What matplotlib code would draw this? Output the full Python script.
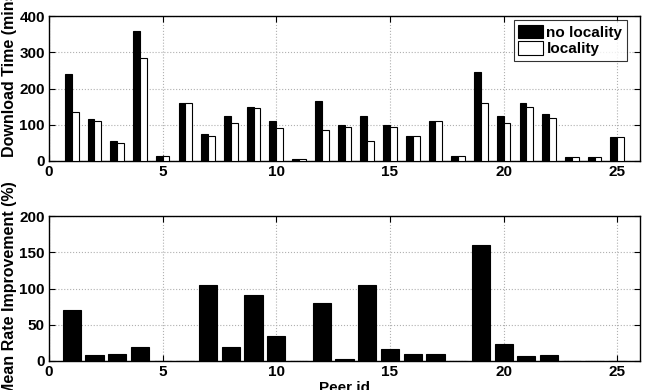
import matplotlib
matplotlib.use("Agg")
import matplotlib.pyplot as plt
import numpy as np

plt.rcParams['font.family'] = ['Liberation Sans', 'DejaVu Sans']
plt.rcParams['font.weight'] = 'bold'

peers = list(range(1, 26))
no_locality = [240, 115, 55, 360, 15, 160, 75, 125, 150, 110, 5, 165, 100, 125, 100,
               70, 110, 15, 245, 125, 160, 130, 10, 10, 65]
locality = [135, 110, 50, 285, 15, 160, 70, 105, 145, 90, 5, 85, 95, 55, 95,
            70, 110, 15, 160, 105, 150, 120, 10, 10, 65]
improvement = [70, 8, 10, 20, 0, 0, 105, 20, 91, 35, 0, 80, 3, 105, 17,
               10, 10, 0, 160, 24, 7, 8, 0, 0, 0]

fig = plt.figure(figsize=(6.46, 3.9), dpi=100)
ax1 = fig.add_axes([49/646, 1-161/390, 591/646, 145/390])
ax2 = fig.add_axes([49/646, 1-361/390, 591/646, 145/390])

x = np.array(peers)
w = 0.3
ax1.bar(x - w/2, no_locality, w, color='black', edgecolor='black', linewidth=0.8, label='no locality', zorder=3)
ax1.bar(x + w/2, locality, w, color='white', edgecolor='black', linewidth=0.8, label='locality', zorder=3)
ax2.bar(x, improvement, 0.8, color='black', edgecolor='black', linewidth=0.8, zorder=3)

for ax, ymax, yt in [(ax1, 400, [0, 100, 200, 300, 400]), (ax2, 200, [0, 50, 100, 150, 200])]:
    ax.set_xlim(0, 26)
    ax.set_ylim(0, ymax)
    ax.set_xticks([0, 5, 10, 15, 20, 25])
    ax.set_yticks(yt)
    ax.grid(True, linestyle=':', color='#b0b0b0', linewidth=0.8, zorder=0)
    ax.tick_params(direction='in', top=True, right=True, labelsize=11, width=0.8, length=4, pad=3)
    for lab in ax.get_xticklabels() + ax.get_yticklabels():
        lab.set_fontweight('bold')
    for s in ax.spines.values():
        s.set_linewidth(1.0)

ax1.set_ylabel('Download Time (mins)', fontsize=11.5, fontweight='bold', ha='left', va='center')
ax1.yaxis.set_label_coords(-0.066, 0.028)
ax2.set_ylabel('Mean Rate Improvement (%)', fontsize=11.5, fontweight='bold', va='center')
ax2.yaxis.set_label_coords(-0.066, 0.5)
ax2.set_xlabel('Peer id', fontsize=11, fontweight='bold', labelpad=1)

leg = ax1.legend(loc='upper right', bbox_to_anchor=(0.978, 0.972), borderaxespad=0,
                 fontsize=11, frameon=True, fancybox=False,
                 edgecolor='black', handlelength=1.65, handleheight=1.0,
                 handletextpad=0.2, borderpad=0.3, labelspacing=0.1)
leg.get_frame().set_linewidth(0.8)
for t in leg.get_texts():
    t.set_fontweight('bold')

fig.savefig('out.png', dpi=100)
